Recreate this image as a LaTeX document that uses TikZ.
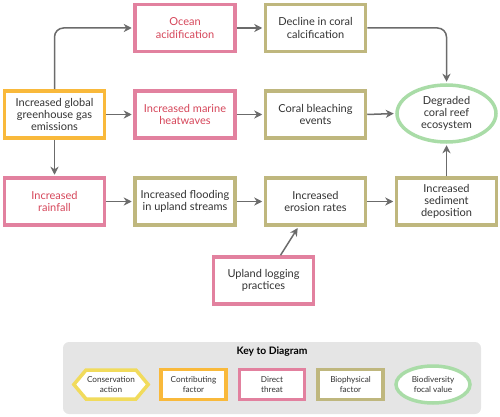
\documentclass[tikz,border=0pt]{standalone}
\usepackage{fontspec}
\setmainfont{Lato}
\usetikzlibrary{shapes.geometric, shapes.symbols, arrows.meta, positioning}
\definecolor{contrib}{HTML}{F9B93B}
\definecolor{threat}{HTML}{E2819F}
\definecolor{threattext}{HTML}{D6465A}
\definecolor{biophys}{HTML}{BFB77E}
\definecolor{focal}{HTML}{A9DCA7}
\definecolor{action}{HTML}{F1DB5C}
\definecolor{arrowgray}{HTML}{6B6B6B}
\definecolor{keybg}{HTML}{E5E5E5}
\definecolor{txt}{HTML}{333333}

\begin{document}
\begin{tikzpicture}[
    x=1pt, y=-1pt,
    box/.style={rectangle, draw, line width=3.5pt, fill=white, minimum width=100pt, minimum height=47pt, align=center, text=txt, font=\fontsize{11}{12.3}\selectfont},
    keybox/.style={rectangle, draw, line width=3.5pt, fill=white, minimum width=65pt, minimum height=30pt, align=center, text=txt, font=\fontsize{8.2}{9.5}\selectfont},
    arr/.style={-{Stealth[length=8pt, width=8pt, inset=2.5pt]}, draw=arrowgray, line width=1.5pt, shorten >=1.5pt}
]
\useasboundingbox (0,0) rectangle (500,417);

% main diagram
\node[box, draw=contrib] (global) at (54.5,114.5) {Increased global\\greenhouse gas\\emissions};
\node[box, draw=threat, text=threattext] (ocean) at (185,28) {Ocean\\acidification};
\node[box, draw=threat, text=threattext] (heat) at (185,114.5) {Increased marine\\heatwaves};
\node[box, draw=threat, text=threattext] (rain) at (54.5,201.5) {Increased\\rainfall};
\node[box, draw=biophys] (decline) at (315.5,28) {Decline in coral\\calcification};
\node[box, draw=biophys] (bleach) at (315.5,114.5) {Coral bleaching\\events};
\node[box, draw=biophys] (flood) at (185,201.5) {Increased flooding\\in upland streams};
\node[box, draw=biophys] (erosion) at (315.5,201.5) {Increased\\erosion rates};
\node[box, draw=biophys] (sediment) at (446.5,201.5) {Increased\\sediment\\deposition};
\node[box, draw=threat] (logging) at (263.5,280.5) {Upland logging\\practices};
\node[ellipse, draw=focal, line width=3.5pt, fill=white, minimum width=99pt, minimum height=57pt, inner sep=0pt, align=center, text=txt, font=\fontsize{11}{12.3}\selectfont] (reef) at (446.5,113.5) {Degraded\\coral reef\\ecosystem};

\draw[arr, rounded corners=9pt] (global.north) |- (ocean.west);
\draw[arr] (global.east) -- (heat.west);
\draw[arr] (global.south) -- (rain.north);
\draw[arr] (ocean.east) -- (decline.west);
\draw[arr] (heat.east) -- (bleach.west);
\draw[arr] (rain.east) -- (flood.west);
\draw[arr] (flood.east) -- (erosion.west);
\draw[arr] (erosion.east) -- (sediment.west);
\draw[arr] (bleach.east) -- (reef.west);
\draw[arr] (sediment.north) -- (reef.south);
\draw[arr, rounded corners=9pt] (decline.east) -| (reef.north);
\draw[arr] ([xshift=17pt]logging.north) -- ([xshift=-17pt]erosion.south);

% key
\fill[keybg, rounded corners=6pt] (63,342) rectangle (481,414);
\node[font=\fontsize{10.3}{12}\selectfont\bfseries, text=black] (keytitle) at (272,352) {Key to Diagram};
\node[signal, signal to=east and west, signal pointer angle=100, draw=action, line width=3.5pt, fill=white, minimum width=74pt, minimum height=29pt, inner xsep=1pt, align=center, text=txt, font=\fontsize{8.2}{9.5}\selectfont] (keyaction) at (111,384.5) {Conservation\\action};
\node[keybox, draw=contrib] (keycontrib) at (193.5,384.5) {Contributing\\factor};
\node[keybox, draw=threat] (keythreat) at (272,384.5) {Direct\\threat};
\node[keybox, draw=biophys] (keybiophys) at (350.5,384.5) {Biophysical\\factor};
\node[ellipse, draw=focal, line width=3.5pt, fill=white, minimum width=74pt, minimum height=37pt, inner sep=0pt, align=center, text=txt, font=\fontsize{8.2}{9.5}\selectfont] (keyfocal) at (433,384.5) {Biodiversity\\focal value};
\end{tikzpicture}
\end{document}
